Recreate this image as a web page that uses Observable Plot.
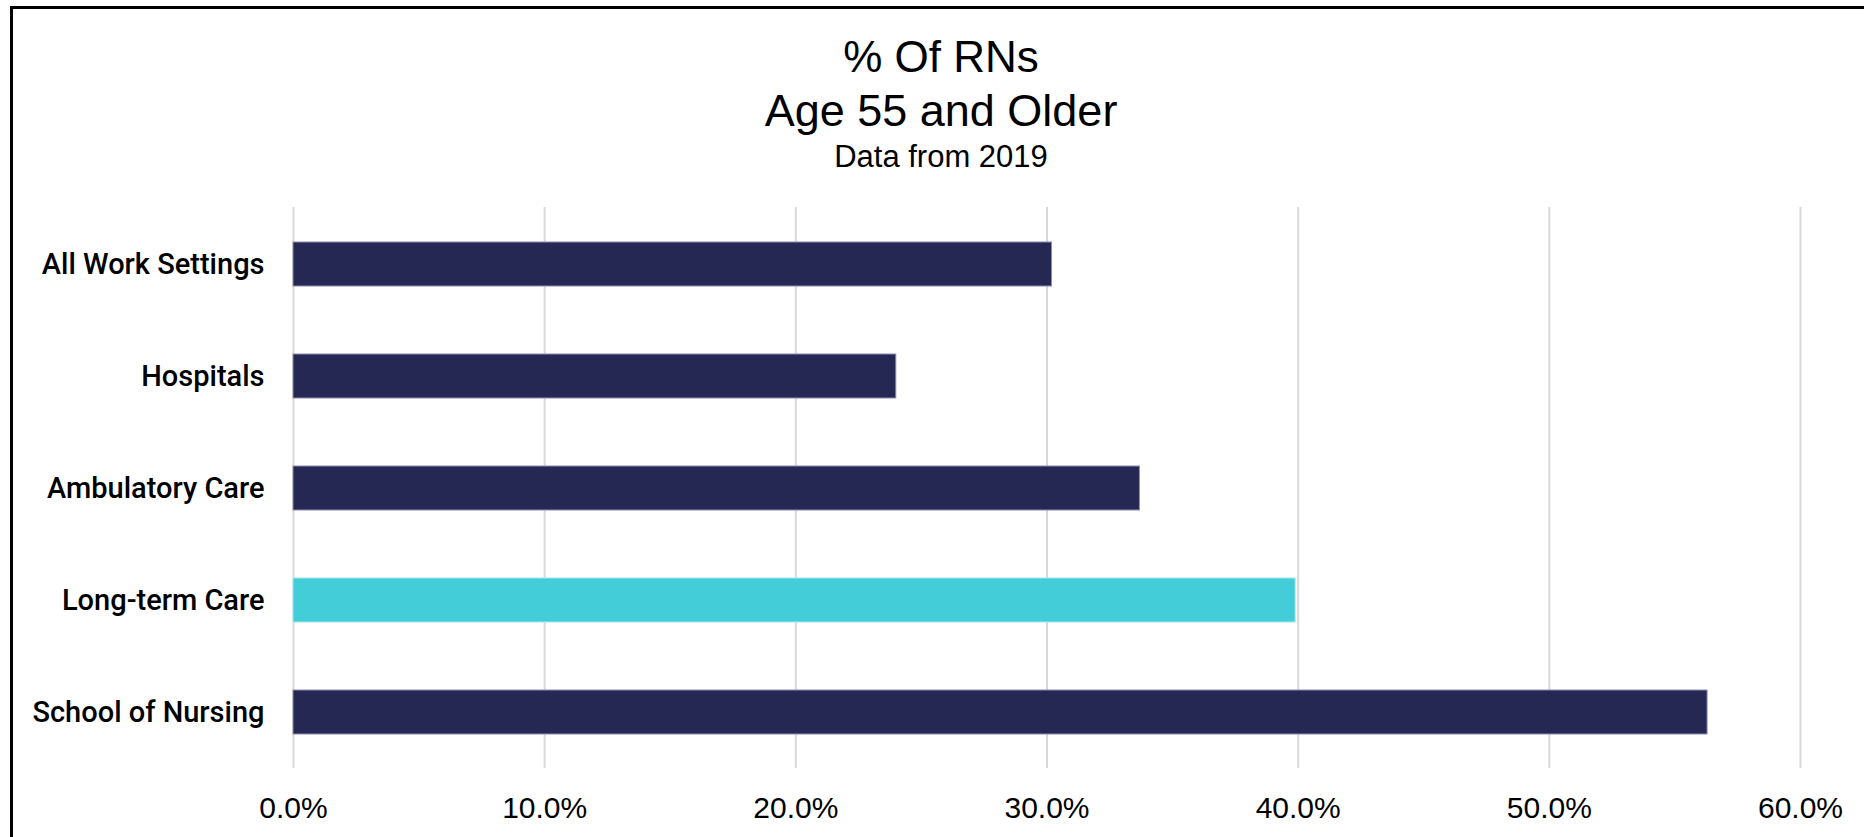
<!DOCTYPE html>
<html>
<head>
<meta charset="utf-8">
<script src="https://cdn.jsdelivr.net/npm/d3@7"></script>
<script src="https://cdn.jsdelivr.net/npm/@observablehq/plot@0.6"></script>
<style>
  html, body { margin: 0; padding: 0; background: #fff; }
  body { width: 1864px; height: 837px; overflow: hidden; position: relative; font-family: "Liberation Sans", Arial, sans-serif; }
  #frame { position: absolute; left: 10px; top: 6px; width: 1900px; height: 900px; border-top: 3px solid #000; border-left: 3px solid #000; box-sizing: border-box; pointer-events: none; }
  #header { position: relative; height: 180px; width: 1864px; }
  #header div { position: absolute; left: 0; width: 1882px; text-align: center; color: #000; white-space: nowrap; }
  #t1 { top: 34.5px; font-size: 44px; line-height: 44px; }
  #t2 { top: 88px; font-size: 45px; line-height: 45px; }
  #t3 { top: 141px; font-size: 31px; line-height: 31px; }
  #chart { position: relative; }
  #chart svg [aria-label^="y-axis"] text { font-family: Roboto, "Liberation Sans", sans-serif; font-weight: 500; font-size: 29px; }
</style>
</head>
<body>
<div id="frame"></div>
<div id="header">
  <div id="t1">% Of RNs</div>
  <div id="t2">Age 55 and Older</div>
  <div id="t3">Data from 2019</div>
</div>
<div id="chart"></div>
<script>
const categories = ["All Work Settings", "Hospitals", "Ambulatory Care", "Long-term Care", "School of Nursing"];
const values = [0.302, 0.240, 0.337, 0.399, 0.563];
const highlighted = "Long-term Care";
const xTicks = [0, 0.1, 0.2, 0.3, 0.4, 0.5, 0.6];
const xTickLabels = ["0.0%", "10.0%", "20.0%", "30.0%", "40.0%", "50.0%", "60.0%"];

const data = categories.map((c, i) => ({category: c, value: values[i]}));
const navy = "#262854";
const cyan = "#43CDD8";

const chart = Plot.plot({
  width: 1864,
  height: 657,
  marginLeft: 293,
  marginRight: 64,
  marginTop: 27,
  marginBottom: 69,
  style: {fontFamily: "'Liberation Sans', Arial, sans-serif", fontSize: "30px", color: "#000", background: "transparent", overflow: "visible"},
  x: {
    domain: [0, 0.6],
    ticks: xTicks,
    tickFormat: (d) => xTickLabels[xTicks.findIndex(t => Math.abs(t - d) < 1e-9)],
    tickSize: 0,
    tickPadding: 28,
    label: null
  },
  y: {
    domain: categories,
    paddingInner: 0.608,
    paddingOuter: 0.304,
    tickSize: 0,
    tickPadding: 29,
    label: null
  },
  marks: [
    Plot.ruleX(xTicks, {stroke: "#d9d9d9", strokeWidth: 2}),
    Plot.barX(data, {
      x: "value",
      y: "category",
      fill: d => d.category === highlighted ? cyan : navy,
      stroke: d => d.category === highlighted ? "#a8e6ec" : "#8a8cae",
      strokeWidth: 1
    })
  ]
});
document.getElementById("chart").appendChild(chart);
</script>
</body>
</html>
